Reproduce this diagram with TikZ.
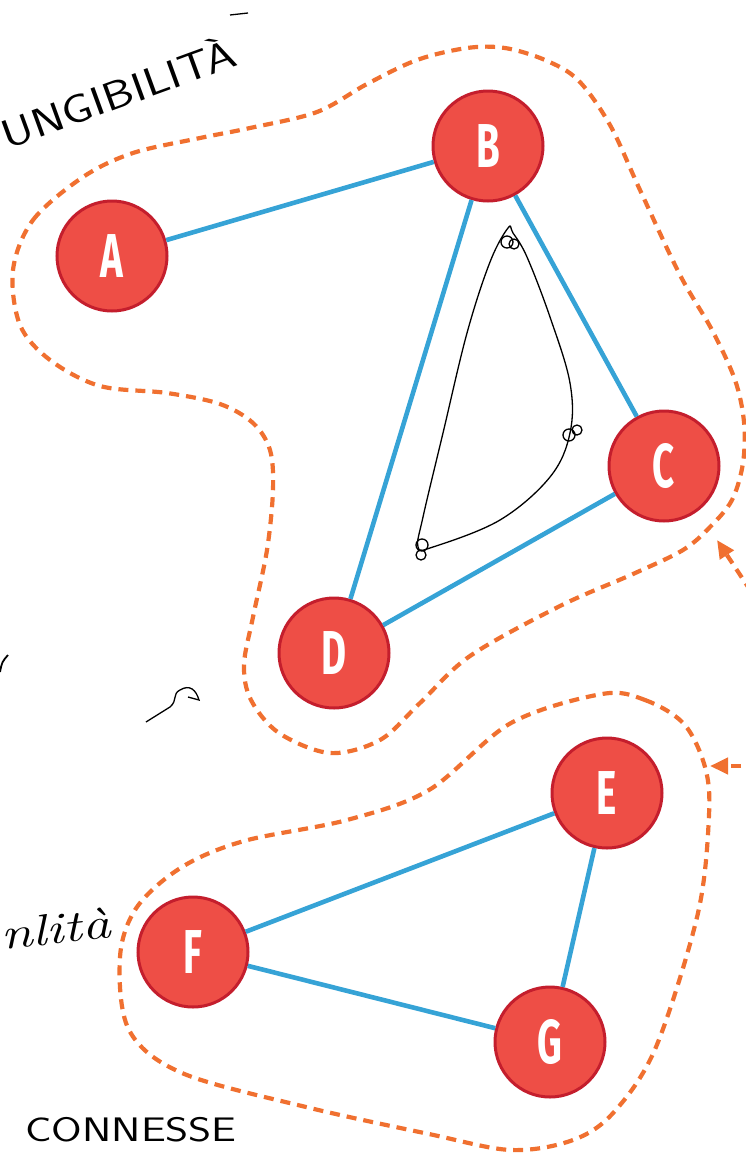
\documentclass[tikz,border=0pt]{standalone}
\usepackage{fontspec}
\usepackage{graphicx}
\usepackage{tikz}
\usepackage{xcolor}
\usetikzlibrary{arrows.meta}
\newfontfamily\vertexfont[FakeStretch=0.62]{Fira Sans}
\definecolor{vertexred}{RGB}{238,78,70}
\definecolor{vertexrim}{RGB}{196,30,45}
\definecolor{edgeblue}{RGB}{54,163,214}
\definecolor{blobline}{RGB}{240,112,48}

\begin{document}
\begin{tikzpicture}[
  x=1pt, y=-1pt,
  vertex/.style={circle, draw=vertexrim, line width=3pt, fill=vertexred,
    minimum size=110pt, inner sep=0pt, text=white,
    font=\vertexfont\bfseries\fontsize{62}{62}\selectfont},
  link/.style={edgeblue, line width=4.6pt},
  blob/.style={blobline, line width=4.2pt, dash pattern=on 10pt off 7pt},
  pointer/.style={blob, -{Triangle[length=18pt, width=16pt]}},
  pen/.style={black, line width=1.3pt},
  hand/.style={font=\sffamily\fontsize{40}{40}\selectfont, inner sep=0pt}
]
\useasboundingbox (0,0) rectangle (745,1157);

% vertices
\node[vertex] (A) at (112,256) {A};
\node[vertex] (B) at (488,146) {B};
\node[vertex] (C) at (664,466) {C};
\node[vertex] (D) at (334,653) {D};
\node[vertex] (E) at (607,793) {E};
\node[vertex] (F) at (193,952) {F};
\node[vertex] (G) at (550,1042) {G};

% edges
\draw[link] (A) -- (B);
\draw[link] (B) -- (C);
\draw[link] (B) -- (D);
\draw[link] (C) -- (D);
\draw[link] (E) -- (F);
\draw[link] (E) -- (G);
\draw[link] (F) -- (G);

% first component outline
\draw[blob] plot[smooth cycle, tension=0.55] coordinates {
  (13,270) (33,220) (83,177) (133,153) (200,138) (250,128) (317,112)
  (367,84) (417,60) (467,48) (505,48) (545,60) (578,80) (610,125)
  (640,190) (680,275) (712,330) (735,380) (744,422) (743,463) (732,500)
  (710,527) (683,550) (633,574) (560,606) (470,656) (420,703) (380,740)
  (330,753) (279,733) (251,700) (244,665) (253,617) (267,550) (273,490)
  (270,450) (253,423) (220,404) (167,393) (100,386) (50,360) (20,325)};

% second component outline
\draw[blob] plot[smooth cycle, tension=0.55] coordinates {
  (602,694) (645,700) (684,724) (705,767) (709,815) (698,913) (656,1047)
  (614,1112) (573,1140) (511,1150) (429,1134) (306,1107) (182,1073)
  (129,1030) (120,957) (137,907) (182,867) (244,841) (347,820) (429,790)
  (511,723)};

% pointers from the right edge
\coordinate (p1) at (770,620);
\coordinate (q1) at (717,540);
\coordinate (p2) at (775,766);
\coordinate (q2) at (710,766);
\draw[pointer] (p1) -- (q1);
\draw[pointer] (p2) -- (q2);

% hand-drawn loop inside B-C-D
\draw[pen] plot[smooth cycle, tension=0.6] coordinates {
  (508,228) (490,262) (467,333) (443,433) (423,517) (418,547) (433,547)
  (500,520) (550,477) (570,433) (570,383) (550,317) (527,257) (513,233)};
\draw[pen] (507,242) circle (6pt) (514,244) circle (5pt);
\draw[pen] (569,435) circle (6pt) (577,430) circle (5pt);
\draw[pen] (422,545) circle (6pt) (421,555) circle (5pt);

% handwritten notes
\node[hand, rotate=20, anchor=south west] (note1) at (8,150)
  {\scalebox{1.22}[1]{UNGIBILITÀ}};
\draw[pen] (230,15) -- (248,13);
\node[hand, font=\itshape\fontsize{44}{44}\selectfont, rotate=6, anchor=south west]
  (note2) at (2,950) {\scalebox{1.3}[1]{nlità}};
\node[hand, font=\sffamily\fontsize{34}{34}\selectfont, anchor=south west]
  (note3) at (25,1142) {\scalebox{1.3}[1]{CONNESSE}};

% stray pen marks
\draw[pen, line width=1.8pt] (8,655) .. controls (2,662) .. (0,672);
\draw[pen] (146,722) -- (170,707) .. controls (178,700) and (172,694) .. (180,690)
  .. controls (190,684) and (196,690) .. (199,700) -- (188,697);
\end{tikzpicture}
\end{document}
